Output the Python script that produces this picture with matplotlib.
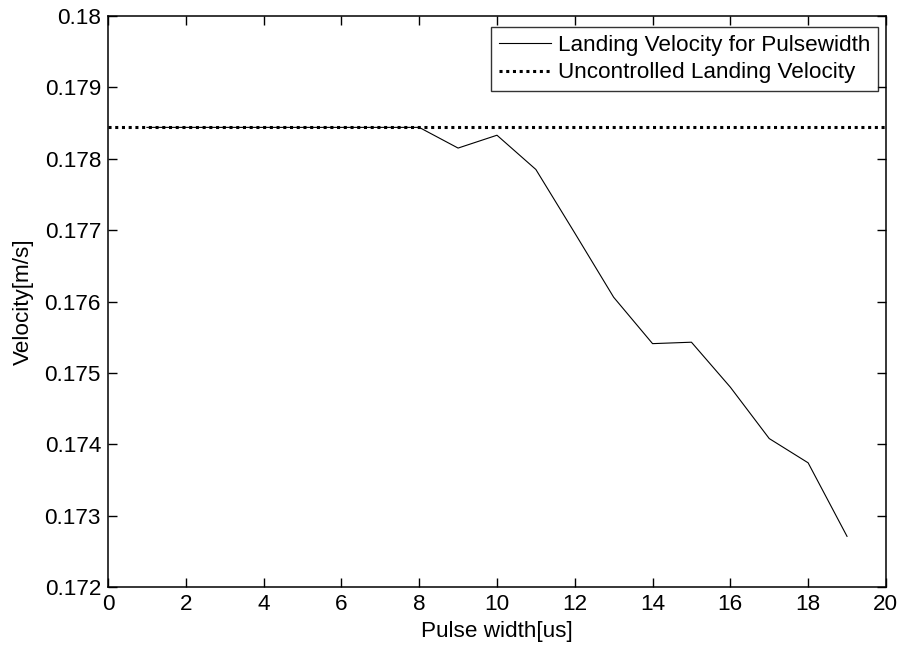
import matplotlib.pyplot as plt

plt.rcParams["font.family"] = ["Liberation Sans", "DejaVu Sans"]

# Landing velocity vs. pulse width
pulse_width = [1, 2, 3, 4, 5, 6, 7, 8, 9, 10, 11, 12, 13, 14, 15, 16, 17, 18, 19]
landing_velocity = [0.17844, 0.17844, 0.17844, 0.17844, 0.17844, 0.17844,
                    0.17844, 0.17844, 0.17815, 0.17833, 0.17785, 0.17696,
                    0.17606, 0.17541, 0.17543, 0.17480, 0.17408, 0.17374,
                    0.17271]
uncontrolled_x = [0, 20]
uncontrolled_velocity = [0.17844, 0.17844]

x_ticks = [0, 2, 4, 6, 8, 10, 12, 14, 16, 18, 20]
y_ticks = [0.172, 0.173, 0.174, 0.175, 0.176, 0.177, 0.178, 0.179, 0.18]
y_tick_labels = ["0.172", "0.173", "0.174", "0.175", "0.176", "0.177",
                 "0.178", "0.179", "0.18"]

fs = 16.2

fig = plt.figure(figsize=(9.04, 6.49), dpi=100)
ax = fig.add_axes([0.1195, 0.0955, 0.8605, 0.8798])

ax.plot(pulse_width, landing_velocity, color="black", lw=0.8,
        label="Landing Velocity for Pulsewidth")
ax.plot(uncontrolled_x, uncontrolled_velocity, color="black", lw=2.2,
        linestyle=(0, (1, 1.2)), dash_capstyle="butt",
        label="Uncontrolled Landing Velocity")

ax.set_xlim(0, 20)
ax.set_ylim(0.172, 0.18)
ax.set_xticks(x_ticks)
ax.set_yticks(y_ticks)
ax.set_yticklabels(y_tick_labels)

ax.tick_params(direction="in", length=6.5, width=1, top=True, right=True,
               labelsize=fs, pad=5)
for s in ax.spines.values():
    s.set_linewidth(1.1)

ax.set_xlabel("Pulse width[us]", fontsize=fs, labelpad=4)
ax.set_ylabel("Velocity[m/s]", fontsize=fs, labelpad=8)

leg = ax.legend(loc="upper right", bbox_to_anchor=(0.9897, 0.9812),
                fontsize=fs, frameon=True, fancybox=False,
                borderpad=0.35, labelspacing=0.3, handlelength=2.3,
                handletextpad=0.3, borderaxespad=0)
leg.get_frame().set_edgecolor("black")
leg.get_frame().set_linewidth(1.0)

fig.savefig("out.png", dpi=100)
